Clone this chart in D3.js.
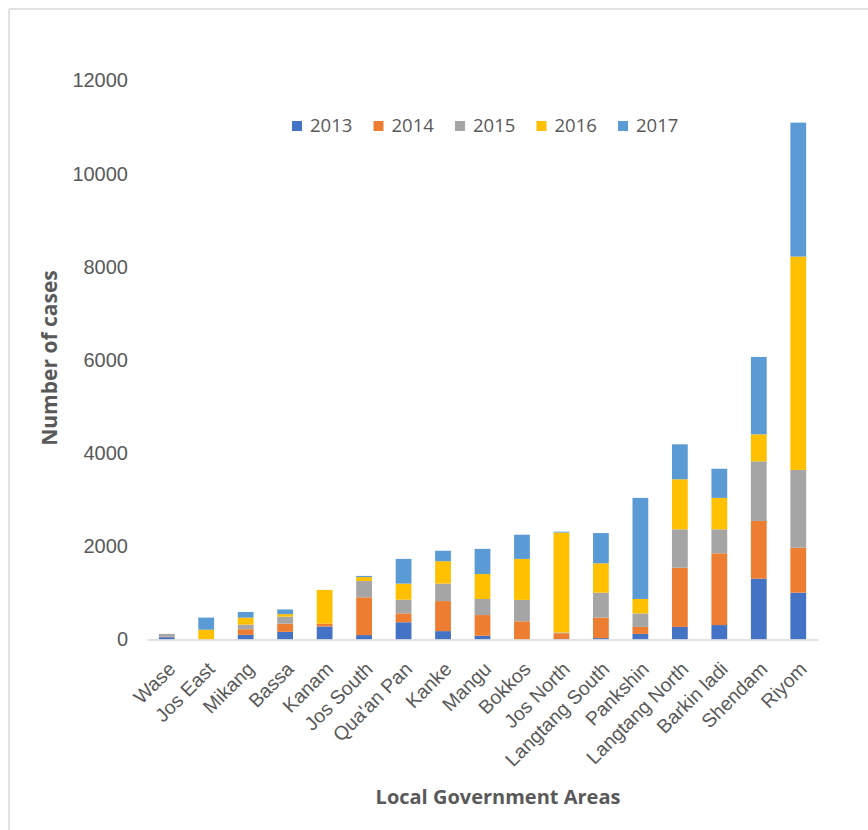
<!DOCTYPE html>
<html>
<head>
<meta charset="utf-8">
<script src="https://cdn.jsdelivr.net/npm/d3@7"></script>
<style>
  body { margin: 0; background: #fff; }
  svg { font-family: "Open Sans", sans-serif; }
  .tick text { fill: #595959; }
</style>
</head>
<body>
<svg width="868" height="830"></svg>
<script>
// Local government areas (x axis)
var categories = ["Wase", "Jos East", "Mikang", "Bassa", "Kanam", "Jos South", "Qua'an Pan", "Kanke",
  "Mangu", "Bokkos", "Jos North", "Langtang South", "Pankshin", "Langtang North", "Barkin ladi", "Shendam", "Riyom"];

// number of cases per year
var years = ["2013", "2014", "2015", "2016", "2017"];
var cases2013 = [50, 0, 100, 165, 280, 95, 370, 180, 80, 0, 10, 30, 120, 270, 310, 1305, 1005];
var cases2014 = [10, 0, 120, 175, 60, 810, 190, 645, 445, 390, 125, 440, 150, 1270, 1540, 1240, 965];
var cases2015 = [60, 0, 100, 150, 0, 350, 295, 375, 345, 460, 15, 535, 290, 825, 515, 1280, 1670];
var cases2016 = [0, 210, 150, 55, 725, 85, 345, 480, 535, 880, 2145, 630, 310, 1075, 675, 580, 4580];
var cases2017 = [0, 260, 120, 100, 0, 25, 530, 225, 540, 520, 20, 650, 2170, 750, 625, 1660, 2875];

var yTicks = [0, 2000, 4000, 6000, 8000, 10000, 12000];
var colors = ["#4472C4", "#ED7D31", "#A5A5A5", "#FFC000", "#5B9BD5"];

var svg = d3.select("svg");

// outer chart frame (only top and left edges show)
svg.append("line").attr("x1", 9).attr("x2", 868).attr("y1", 9).attr("y2", 9)
  .attr("stroke", "#d9d9d9").attr("stroke-width", 1.5);
svg.append("line").attr("x1", 9).attr("x2", 9).attr("y1", 9).attr("y2", 830)
  .attr("stroke", "#d9d9d9").attr("stroke-width", 1.5);

// build rows for d3.stack
var series = [cases2013, cases2014, cases2015, cases2016, cases2017];
var table = categories.map(function(c, i) {
  var row = { lga: c };
  years.forEach(function(y, j) { row[y] = series[j][i]; });
  return row;
});
var stacked = d3.stack().keys(years)(table);

var x = d3.scaleBand()
  .domain(categories)
  .range([147, 818])
  .paddingInner(0.6)
  .paddingOuter(0.3);

var y = d3.scaleLinear()
  .domain([0, 12000])
  .range([639.5, 80.5]);

var color = d3.scaleOrdinal().domain(years).range(colors);

// y axis, labels only
var yAxis = svg.append("g")
  .attr("transform", "translate(145,0)")
  .call(d3.axisLeft(y).tickValues(yTicks).tickSize(0).tickPadding(17).tickFormat(d3.format("d")));
yAxis.select(".domain").remove();
yAxis.selectAll("text").style("font-size", "20px");

// bars
svg.append("g")
  .selectAll("g")
  .data(stacked)
  .enter().append("g")
    .attr("fill", function(d) { return color(d.key); })
  .selectAll("rect")
  .data(function(d) { return d; })
  .enter().append("rect")
    .attr("x", function(d) { return x(d.data.lga); })
    .attr("y", function(d) { return y(d[1]); })
    .attr("height", function(d) { return y(d[0]) - y(d[1]); })
    .attr("width", x.bandwidth());

// x axis line + rotated labels
var xAxis = svg.append("g")
  .attr("transform", "translate(0,639.5)")
  .call(d3.axisBottom(x).tickSize(0).tickPadding(0));
xAxis.select(".domain").attr("stroke", "#d9d9d9").attr("stroke-width", 1.5);
xAxis.selectAll("text")
  .style("font-size", "19.5px")
  .attr("text-anchor", "end")
  .attr("dy", "0.35em")
  .attr("transform", "translate(5,26) rotate(-45)");

// axis titles
svg.append("text")
  .attr("transform", "translate(57,358) rotate(-90)")
  .attr("text-anchor", "middle")
  .style("font-size", "21px")
  .style("font-weight", "bold")
  .attr("fill", "#595959")
  .text("Number of cases");

svg.append("text")
  .attr("x", 498)
  .attr("y", 804)
  .attr("text-anchor", "middle")
  .style("font-size", "20px")
  .style("font-weight", "bold")
  .attr("fill", "#595959")
  .text("Local Government Areas");

// legend
var legend = svg.append("g").attr("transform", "translate(292,126)");
var item = legend.selectAll("g")
  .data(years)
  .enter().append("g")
    .attr("transform", function(d, i) { return "translate(" + (i * 81.5) + ",0)"; });
item.append("rect")
  .attr("x", 0).attr("y", -5)
  .attr("width", 10).attr("height", 10)
  .attr("fill", function(d) { return color(d); });
item.append("text")
  .attr("x", 18)
  .attr("dy", "0.35em")
  .style("font-size", "18.5px")
  .attr("fill", "#595959")
  .text(function(d) { return d; });
</script>
</body>
</html>
